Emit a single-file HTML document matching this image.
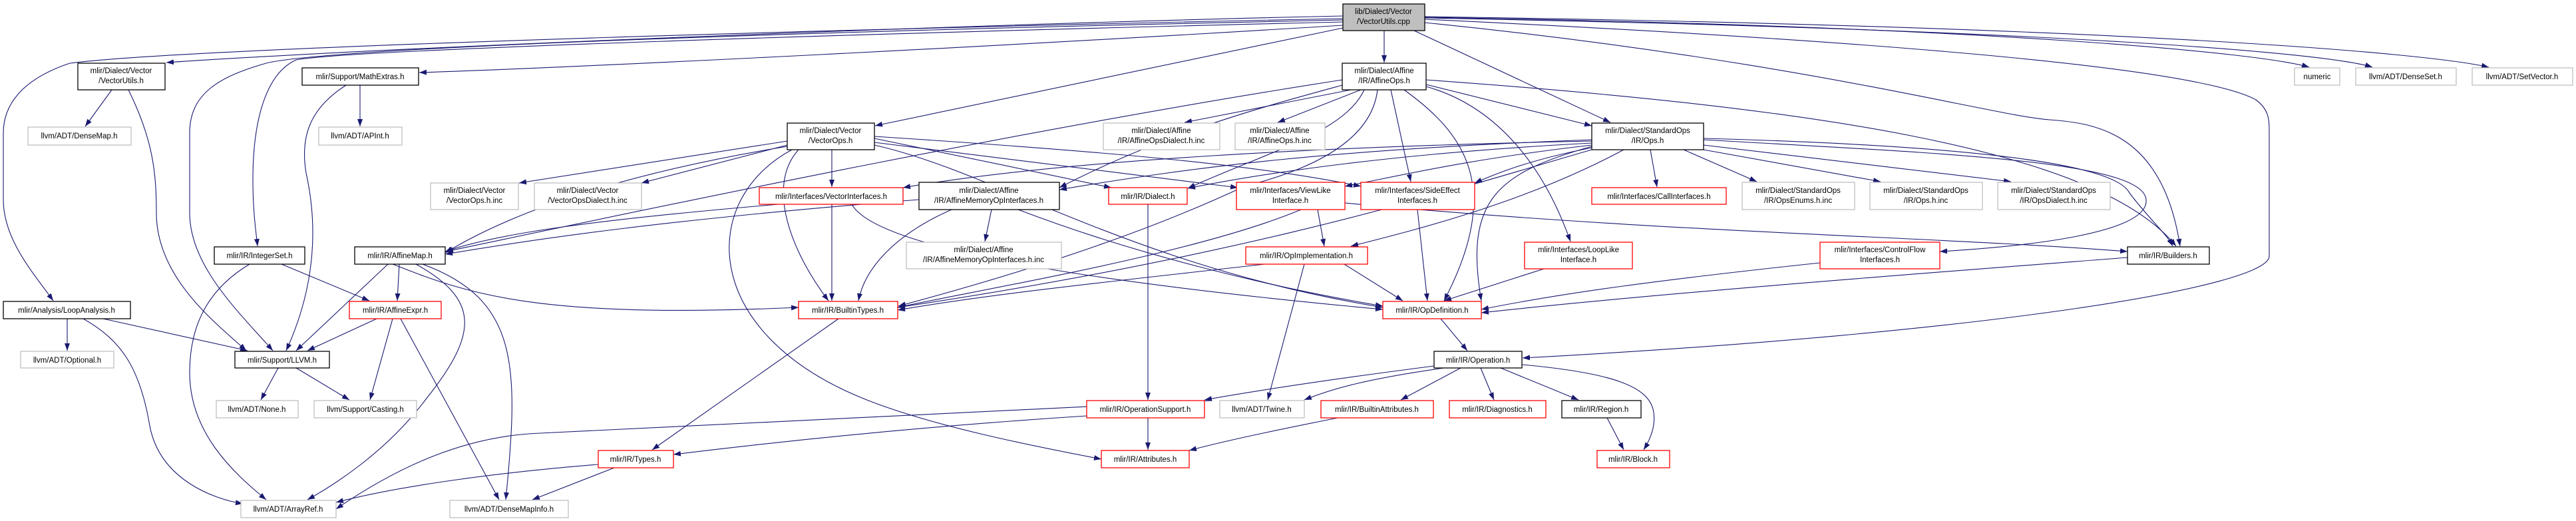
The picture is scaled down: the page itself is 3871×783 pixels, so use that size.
<!DOCTYPE html>
<html><head><meta charset="utf-8"><style>
html,body{margin:0;padding:0;background:#fff;}
svg{display:block;}
text{font-family:"Liberation Sans",sans-serif;font-size:11.5px;fill:#000;text-anchor:middle;}
.b{fill:#fff;stroke:#000;stroke-width:1.3}
.r{fill:#fff;stroke:#ff0000;stroke-width:1.3}
.g{fill:#fff;stroke:#bfbfbf;stroke-width:1.3}
.e{fill:none;stroke:#191970;stroke-width:1.1}
</style></head><body>
<svg width="3871" height="783" viewBox="0 0 3871 783" xmlns="http://www.w3.org/2000/svg">
<defs><marker id="a" markerWidth="11" markerHeight="8" refX="11" refY="4" orient="auto" markerUnits="userSpaceOnUse"><path d="M0,0 L11,4 L0,8z" fill="#191970"/></marker></defs>
<g class="e" marker-end="url(#a)">
<!-- top node -->
<path d="M2018,24 C1500,35 600,70 250,94"/>
<path d="M2018,28 C1400,40 300,70 105,95 C30,120 5,160 5,200 V300 C5,360 50,410 80,452"/>
<path d="M2018,30 C1300,45 500,70 400,95 C330,115 285,140 285,200 V320 C285,400 360,470 410,527"/>
<path d="M2018,33 C1300,50 520,75 445,90 C400,110 380,180 380,270 C380,320 385,350 387,370"/>
<path d="M2018,38 C1500,70 900,100 630,109"/>
<path d="M2018,42 C1700,110 1400,170 1315,189"/>
<path d="M2080,46 V94"/>
<path d="M2125,46 L2420,184"/>
<path d="M2141,34 C2700,90 3000,175 3080,180 C3150,185 3250,200 3276,370"/>
<path d="M2141,29 C2800,60 3300,100 3390,150 C3410,165 3410,180 3410,200 V385 C3410,430 3000,500 2288,538"/>
<path d="M2141,26 C3000,40 3400,80 3470,101"/>
<path d="M2141,27 C3100,45 3500,80 3565,101"/>
<path d="M2141,25 C3200,40 3650,80 3740,101"/>
<!-- AffineOps -->
<path d="M2030,135 L1780,184"/>
<path d="M2045,135 L1920,184"/>
<path d="M2017,120 C1500,200 900,330 670,378"/>
<path d="M2017,128 C1900,160 1750,200 1592,282"/>
<path d="M2050,135 C2020,200 1900,230 1785,283"/>
<path d="M2090,135 L2120,273"/>
<path d="M2110,135 C2200,200 2260,280 2170,452"/>
<path d="M2143,130 C2250,160 2320,250 2360,363"/>
<path d="M2143,127 L2392,189"/>
<path d="M2143,120 C2700,160 3150,220 3270,370"/>
<path d="M2070,135 C2060,220 1950,260 1870,280 C1700,360 1500,420 1350,460"/>
<!-- VectorOps -->
<path d="M1183,212 L780,275"/>
<path d="M1183,218 L964,275"/>
<path d="M1183,220 C1000,250 800,300 669,380"/>
<path d="M1250,225 V281"/>
<path d="M1200,225 C1150,280 1190,380 1245,452"/>
<path d="M1190,225 C1050,300 1050,500 1300,600 C1400,640 1550,670 1655,690"/>
<path d="M1314,208 L1670,282"/>
<path d="M1314,214 L1860,282"/>
<path d="M1314,205 C1700,230 1900,250 2045,280"/>
<path d="M1314,218 C1500,260 1700,400 2078,462"/>
<!-- StdOps -->
<path d="M2392,212 C2000,220 1600,240 1357,282"/>
<path d="M2392,215 C2100,230 1900,260 1785,283"/>
<path d="M2392,218 C2200,240 2100,265 2021,280"/>
<path d="M2392,222 C2300,240 2250,260 2216,275"/>
<path d="M2392,210 C2000,225 1800,250 1592,285"/>
<path d="M2440,225 C2300,300 2150,340 2030,370"/>
<path d="M2480,225 L2490,281"/>
<path d="M2530,225 L2640,273"/>
<path d="M2560,225 L2826,273"/>
<path d="M2560,218 L3022,273"/>
<path d="M2560,210 C2900,230 3220,240 3225,300 C3230,350 3050,370 2915,378"/>
<path d="M2560,208 C3000,220 3180,250 3200,290 C3230,330 3255,350 3265,370"/>
<path d="M2392,225 C2200,280 1900,380 1349,462"/>
<path d="M2392,220 C2250,260 2200,300 2226,452"/>
<!-- mid -->
<path d="M1170,307 C900,330 750,350 669,378"/>
<path d="M1250,307 V452"/>
<path d="M1280,307 C1320,380 1700,430 2078,465"/>
<path d="M1430,315 C1350,350 1300,400 1290,452"/>
<path d="M1490,315 L1480,363"/>
<path d="M1530,315 C1700,380 1900,430 2078,460"/>
<path d="M1381,300 C1000,330 800,360 669,382"/>
<path d="M1725,307 V601"/>
<path d="M1955,315 C1800,380 1500,430 1349,462"/>
<path d="M1980,315 L1990,370"/>
<path d="M2021,305 C2500,350 2900,355 3197,378"/>
<path d="M1900,397 C1700,420 1500,440 1349,466"/>
<path d="M2020,397 L2108,452"/>
<path d="M1960,397 L1905,601"/>
<path d="M2130,315 L2145,452"/>
<path d="M2320,404 L2170,452"/>
<path d="M2735,395 C2500,420 2350,440 2226,465"/>
<path d="M3197,387 C2900,410 2500,440 2226,470"/>
<path d="M2165,479 L2205,527"/>
<!-- Operation -->
<path d="M2155,550 C2000,570 1900,585 1810,601"/>
<path d="M2170,553 C2050,570 2000,585 1960,601"/>
<path d="M2195,553 L2105,601"/>
<path d="M2225,553 L2245,601"/>
<path d="M2255,553 L2372,601"/>
<path d="M2287,548 C2420,560 2480,580 2485,620 C2488,640 2480,660 2470,676"/>
<path d="M2415,628 L2440,676"/>
<path d="M1725,628 V676"/>
<path d="M1633,625 C1400,640 1200,660 1012,683"/>
<path d="M2010,628 C1950,640 1850,660 1787,677"/>
<path d="M1260,479 L980,676"/>
<path d="M899,698 C750,710 600,730 505,755"/>
<path d="M923,703 L800,751"/>
<!-- AffineMap etc -->
<path d="M1820,602 C1400,620 1100,640 812,651 C700,655 600,700 505,765"/>
<path d="M583,397 L445,527"/>
<path d="M600,397 L597,452"/>
<path d="M625,397 C720,450 720,500 640,600 C580,680 500,730 462,751"/>
<path d="M635,397 C780,450 780,550 760,751"/>
<path d="M590,397 C700,440 800,480 1200,462"/>
<path d="M566,479 L462,527"/>
<path d="M590,479 L556,601"/>
<path d="M602,479 L750,751"/>
<path d="M423,397 L555,452"/>
<path d="M375,397 C320,430 285,480 285,560 C285,650 350,710 400,751"/>
<path d="M520,128 C470,160 450,200 460,260 C480,350 470,440 430,527"/>
<path d="M541,128 V190"/>
<path d="M168,135 L128,190"/>
<path d="M193,135 C230,210 235,260 235,320 C235,420 330,490 370,527"/>
<path d="M101,479 V527"/>
<path d="M155,479 L372,527"/>
<path d="M125,479 C180,510 210,550 225,640 C240,720 320,750 365,757"/>
<path d="M418,553 L392,601"/>
<path d="M445,553 L525,601"/>
</g>
<!-- nodes -->
<rect x="2018" y="6" width="123" height="40" fill="#bfbfbf" stroke="#000" stroke-width="1.3"/>
<text x="2079" y="21">lib/Dialect/Vector</text><text x="2079" y="36">/VectorUtils.cpp</text>
<rect class="b" x="117" y="95" width="131" height="40"/><text x="182" y="110">mlir/Dialect/Vector</text><text x="182" y="125">/VectorUtils.h</text>
<rect class="g" x="42" y="191" width="155" height="27"/><text x="119" y="208">llvm/ADT/DenseMap.h</text>
<rect class="b" x="454" y="102" width="175" height="26"/><text x="541" y="119">mlir/Support/MathExtras.h</text>
<rect class="g" x="479" y="191" width="125" height="27"/><text x="541" y="208">llvm/ADT/APInt.h</text>
<rect class="b" x="322" y="371" width="136" height="26"/><text x="390" y="388">mlir/IR/IntegerSet.h</text>
<rect class="b" x="533" y="371" width="136" height="26"/><text x="601" y="388">mlir/IR/AffineMap.h</text>
<rect class="b" x="5" y="453" width="191" height="26"/><text x="100" y="470">mlir/Analysis/LoopAnalysis.h</text>
<rect class="r" x="525" y="453" width="138" height="26"/><text x="594" y="470">mlir/IR/AffineExpr.h</text>
<rect class="g" x="31" y="528" width="140" height="25"/><text x="101" y="545">llvm/ADT/Optional.h</text>
<rect class="b" x="353" y="528" width="142" height="25"/><text x="424" y="545">mlir/Support/LLVM.h</text>
<rect class="g" x="325" y="602" width="123" height="26"/><text x="386" y="619">llvm/ADT/None.h</text>
<rect class="g" x="472" y="602" width="154" height="26"/><text x="549" y="619">llvm/Support/Casting.h</text>
<rect class="g" x="362" y="752" width="143" height="26"/><text x="433" y="769">llvm/ADT/ArrayRef.h</text>
<rect class="b" x="1183" y="185" width="131" height="40"/><text x="1248" y="200">mlir/Dialect/Vector</text><text x="1248" y="215">/VectorOps.h</text>
<rect class="g" x="647" y="275" width="132" height="40"/><text x="713" y="290">mlir/Dialect/Vector</text><text x="713" y="305">/VectorOps.h.inc</text>
<rect class="g" x="803" y="275" width="161" height="40"/><text x="883" y="290">mlir/Dialect/Vector</text><text x="883" y="305">/VectorOpsDialect.h.inc</text>
<rect class="r" x="1141" y="282" width="216" height="25"/><text x="1249" y="299">mlir/Interfaces/VectorInterfaces.h</text>
<rect class="r" x="1200" y="453" width="149" height="26"/><text x="1274" y="470">mlir/IR/BuiltinTypes.h</text>
<rect class="r" x="899" y="677" width="113" height="26"/><text x="955" y="694">mlir/IR/Types.h</text>
<rect class="g" x="676" y="752" width="178" height="26"/><text x="765" y="769">llvm/ADT/DenseMapInfo.h</text>
<rect class="g" x="1658" y="185" width="175" height="40"/><text x="1745" y="200">mlir/Dialect/Affine</text><text x="1745" y="215">/IR/AffineOpsDialect.h.inc</text>
<rect class="g" x="1856" y="185" width="135" height="40"/><text x="1923" y="200">mlir/Dialect/Affine</text><text x="1923" y="215">/IR/AffineOps.h.inc</text>
<rect class="b" x="1381" y="274" width="211" height="41"/><text x="1486" y="290">mlir/Dialect/Affine</text><text x="1486" y="305">/IR/AffineMemoryOpInterfaces.h</text>
<rect class="r" x="1666" y="282" width="118" height="25"/><text x="1725" y="299">mlir/IR/Dialect.h</text>
<rect class="r" x="1858" y="274" width="163" height="41"/><text x="1939" y="290">mlir/Interfaces/ViewLike</text><text x="1939" y="305">Interface.h</text>
<rect class="g" x="1362" y="364" width="233" height="40"/><text x="1478" y="379">mlir/Dialect/Affine</text><text x="1478" y="394">/IR/AffineMemoryOpInterfaces.h.inc</text>
<rect class="r" x="1872" y="371" width="183" height="26"/><text x="1963" y="388">mlir/IR/OpImplementation.h</text>
<rect class="r" x="1633" y="602" width="177" height="26"/><text x="1721" y="619">mlir/IR/OperationSupport.h</text>
<rect class="g" x="1833" y="602" width="127" height="26"/><text x="1896" y="619">llvm/ADT/Twine.h</text>
<rect class="r" x="1655" y="677" width="132" height="26"/><text x="1721" y="694">mlir/IR/Attributes.h</text>
<rect class="b" x="2017" y="95" width="126" height="40"/><text x="2080" y="110">mlir/Dialect/Affine</text><text x="2080" y="125">/IR/AffineOps.h</text>
<rect class="b" x="2392" y="185" width="168" height="40"/><text x="2476" y="200">mlir/Dialect/StandardOps</text><text x="2476" y="215">/IR/Ops.h</text>
<rect class="r" x="2045" y="274" width="171" height="41"/><text x="2130" y="290">mlir/Interfaces/SideEffect</text><text x="2130" y="305">Interfaces.h</text>
<rect class="r" x="2392" y="282" width="202" height="25"/><text x="2493" y="299">mlir/Interfaces/CallInterfaces.h</text>
<rect class="r" x="2291" y="364" width="162" height="40"/><text x="2372" y="379">mlir/Interfaces/LoopLike</text><text x="2372" y="394">Interface.h</text>
<rect class="r" x="2078" y="453" width="148" height="26"/><text x="2152" y="470">mlir/IR/OpDefinition.h</text>
<rect class="b" x="2155" y="528" width="132" height="25"/><text x="2221" y="545">mlir/IR/Operation.h</text>
<rect class="r" x="1985" y="602" width="169" height="26"/><text x="2069" y="619">mlir/IR/BuiltinAttributes.h</text>
<rect class="r" x="2178" y="602" width="145" height="26"/><text x="2250" y="619">mlir/IR/Diagnostics.h</text>
<rect class="b" x="2347" y="602" width="119" height="26"/><text x="2406" y="619">mlir/IR/Region.h</text>
<rect class="r" x="2400" y="677" width="109" height="26"/><text x="2454" y="694">mlir/IR/Block.h</text>
<rect class="g" x="2618" y="274" width="169" height="41"/><text x="2702" y="290">mlir/Dialect/StandardOps</text><text x="2702" y="305">/IR/OpsEnums.h.inc</text>
<rect class="g" x="2810" y="274" width="169" height="41"/><text x="2894" y="290">mlir/Dialect/StandardOps</text><text x="2894" y="305">/IR/Ops.h.inc</text>
<rect class="g" x="3002" y="274" width="169" height="41"/><text x="3086" y="290">mlir/Dialect/StandardOps</text><text x="3086" y="305">/IR/OpsDialect.h.inc</text>
<rect class="r" x="2735" y="364" width="180" height="40"/><text x="2825" y="379">mlir/Interfaces/ControlFlow</text><text x="2825" y="394">Interfaces.h</text>
<rect class="b" x="3197" y="371" width="123" height="26"/><text x="3258" y="388">mlir/IR/Builders.h</text>
<rect class="g" x="3448" y="102" width="68" height="26"/><text x="3482" y="119">numeric</text>
<rect class="g" x="3540" y="102" width="151" height="26"/><text x="3615" y="119">llvm/ADT/DenseSet.h</text>
<rect class="g" x="3715" y="102" width="151" height="26"/><text x="3790" y="119">llvm/ADT/SetVector.h</text>
</svg>
</body></html>
